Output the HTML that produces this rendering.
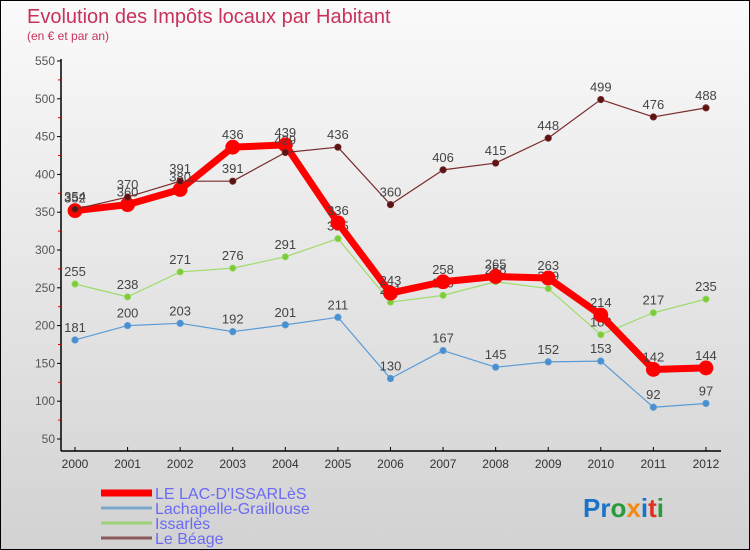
<!DOCTYPE html>
<html><head><meta charset="utf-8"><style>
html,body{margin:0;padding:0}
body{width:750px;height:550px;overflow:hidden;font-family:"Liberation Sans",sans-serif}
#wrap{position:relative;width:748px;height:548px;border:1px solid #000;background:linear-gradient(#fafafa,#d2d2d2)}
</style></head><body>
<div id="wrap">
<svg id="chart" width="748" height="548" style="position:absolute;left:0;top:0">
<text x="26" y="22" font-size="20" fill="#c8325a">Evolution des Impôts locaux par Habitant</text>
<text x="26" y="39" font-size="12" fill="#c8325a">(en € et par an)</text>
<g id="axes"></g><g id="series"></g><g id="legend"></g>
<g font-size="26" font-weight="bold">
<text x="582" y="516"><tspan fill="#1a73c8">Pr</tspan><tspan fill="#2a9a3a">o</tspan><tspan fill="#f08a10">x</tspan><tspan fill="#1a73c8">i</tspan><tspan fill="#e03020">t</tspan><tspan fill="#2a9a3a">i</tspan></text>
</g>
</svg>
</div>
<script>
const years=[2000,2001,2002,2003,2004,2005,2006,2007,2008,2009,2010,2011,2012];
const yTicks=[50,100,150,200,250,300,350,400,450,500,550];
const lac=[352,360,380,436,439,336,243,258,265,263,214,142,144];
const lachapelle=[181,200,203,192,201,211,130,167,145,152,153,92,97];
const issarles=[255,238,271,276,291,315,231,240,258,249,188,217,235];
const beage=[354,370,391,391,429,436,360,406,415,448,499,476,488];
const NS="http://www.w3.org/2000/svg";
function X(i){return 74+i*52.58;}
function Y(v){return 438-(v-50)*0.756;}
function mk(t,a,p){const e=document.createElementNS(NS,t);for(const k in a)e.setAttribute(k,a[k]);(p||document.getElementById('axes')).appendChild(e);return e;}
const ax=document.getElementById('axes');
let l=mk('line',{x1:60,y1:58,x2:60,y2:450,stroke:'#000','stroke-width':1.5});

l=mk('line',{x1:60,y1:450,x2:720,y2:450,stroke:'#000','stroke-width':1.5});

yTicks.forEach((v,i)=>{
  mk('line',{x1:56,y1:Y(v),x2:60,y2:Y(v),stroke:'#000'});
  if(i<yTicks.length-1)mk('line',{x1:57,y1:Y(v+25),x2:60,y2:Y(v+25),stroke:'#d00'});
  const t=mk('text',{x:54,y:Y(v)+4,'text-anchor':'end','font-size':12,fill:'#555'});
  t.textContent=v;
  
  
});
years.forEach((y,i)=>{
  mk('line',{x1:X(i),y1:446,x2:X(i),y2:450,stroke:'#000'});
  const t=mk('text',{x:X(i),y:467,'text-anchor':'middle','font-size':12,fill:'#333'});
  t.textContent=y;
  
  
});
const sg=document.getElementById('series');
function series(data,name,color,w,r,dot){
  const g=mk('g',{},sg);
  
  
  mk('polyline',{points:data.map((v,i)=>X(i)+','+Y(v)).join(' '),fill:'none',stroke:color,'stroke-width':w,'stroke-linejoin':'round'},g);
  data.forEach((v,i)=>{
    const c=mk('circle',{cx:X(i),cy:Y(v),r:r,fill:dot,stroke:color,'stroke-width':0.8},g);
    
    
    const t=mk('text',{x:X(i),y:Y(v)-8,'text-anchor':'middle','font-size':13,fill:'#444'},g);
    t.textContent=v;
    
    
  });
}
series(lachapelle,'lachapelle','#5b9bd5',1.2,3.2,'#4a90d0');
series(issarles,'issarles','#9edc6a',1.2,3.2,'#7ccc3a');
series(lac,'lac','#f00',7,7,'#f00');
series(beage,'beage','#7a2a2a',1.2,3.2,'#5a1414');
const lg=document.getElementById('legend');
const names=["LE LAC-D'ISSARLèS","Lachapelle-Graillouse","Issarlès","Le Béage"];
const cols=['#f00','#7aa8c8','#9ed27a','#8a5a5a'];
const ws=[7,3,3,3];
names.forEach((n,i)=>{
  const y=492+i*15;
  const g=mk('g',{},lg);
  
  
  mk('line',{x1:100,y1:y,x2:151,y2:y,stroke:cols[i],'stroke-width':ws[i]},g);
  const t=mk('text',{x:154,y:y+6,'font-size':16,fill:'#6a6af5'},g);
  t.textContent=n;
});
</script>
</body></html>
